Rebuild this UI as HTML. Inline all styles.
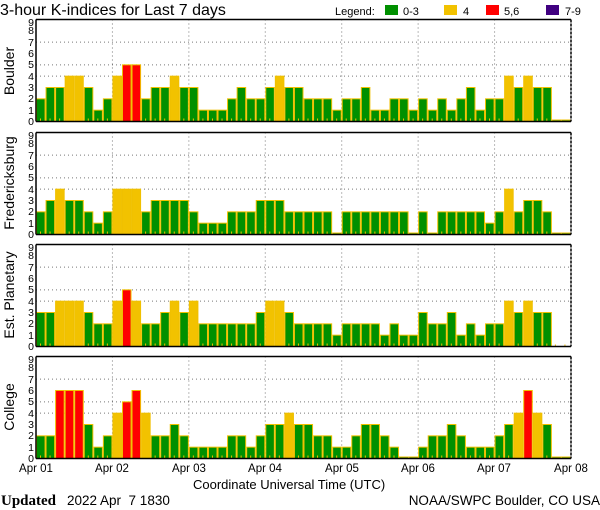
<!DOCTYPE html>
<html><head><meta charset="utf-8"><style>
html,body{margin:0;padding:0;background:#fff;}
svg{display:block;font-family:"Liberation Sans",sans-serif;}
</style></head><body>
<svg id="s" width="600" height="510" viewBox="0 0 600 510" xmlns="http://www.w3.org/2000/svg">
<rect width="600" height="510" fill="#fff"/>
<g id="plots"></g>
<text x="0" y="15" font-size="16" fill="#000">3-hour K-indices for Last 7 days</text>
<text x="335" y="15" font-size="11" fill="#000">Legend:</text>
<rect x="385" y="5" width="13" height="10" fill="#009000"/>
<text x="403" y="15" font-size="11">0-3</text>
<rect x="444" y="5" width="13" height="10" fill="#f2c200"/>
<text x="463" y="15" font-size="11">4</text>
<rect x="486" y="5" width="13" height="10" fill="#ff0000"/>
<text x="504" y="15" font-size="11">5,6</text>
<rect x="546" y="5" width="13" height="10" fill="#400080"/>
<text x="565" y="15" font-size="11">7-9</text>

<g font-size="14" text-anchor="middle">
<text transform="translate(14,71) rotate(-90)">Boulder</text>
<text transform="translate(14,183) rotate(-90)">Fredericksburg</text>
<text transform="translate(14,295) rotate(-90)">Est. Planetary</text>
<text transform="translate(14,407) rotate(-90)">College</text>
</g>

<g font-size="10.5" text-anchor="end">
<text x="34" y="125">0</text><text x="34" y="114">1</text><text x="34" y="102">2</text><text x="34" y="91">3</text><text x="34" y="80">4</text><text x="34" y="68">5</text><text x="34" y="57">6</text><text x="34" y="46">7</text><text x="34" y="34">8</text><text x="34" y="26">9</text>
<text x="34" y="238">0</text><text x="34" y="227">1</text><text x="34" y="215">2</text><text x="34" y="204">3</text><text x="34" y="193">4</text><text x="34" y="181">5</text><text x="34" y="170">6</text><text x="34" y="159">7</text><text x="34" y="147">8</text><text x="34" y="139">9</text>
<text x="34" y="350">0</text><text x="34" y="339">1</text><text x="34" y="327">2</text><text x="34" y="316">3</text><text x="34" y="305">4</text><text x="34" y="293">5</text><text x="34" y="282">6</text><text x="34" y="271">7</text><text x="34" y="259">8</text><text x="34" y="251">9</text>
<text x="34" y="462">0</text><text x="34" y="451">1</text><text x="34" y="439">2</text><text x="34" y="428">3</text><text x="34" y="417">4</text><text x="34" y="405">5</text><text x="34" y="394">6</text><text x="34" y="383">7</text><text x="34" y="371">8</text><text x="34" y="363">9</text>
</g>

<g font-size="11.5" text-anchor="middle">
<text x="36" y="472">Apr 01</text>
<text x="112" y="472">Apr 02</text>
<text x="189" y="472">Apr 03</text>
<text x="265" y="472">Apr 04</text>
<text x="342" y="472">Apr 05</text>
<text x="418" y="472">Apr 06</text>
<text x="494" y="472">Apr 07</text>
<text x="571" y="472">Apr 08</text>
</g>
<text x="193" y="489" font-size="13">Coordinate Universal Time (UTC)</text>
<text x="1" y="505" font-size="15" font-family="Liberation Serif, serif" font-weight="bold">Updated</text>
<text x="67" y="505" font-size="13.5">2022 Apr&#160;&#160;7 1830</text>
<text x="600" y="505" font-size="13.5" text-anchor="end">NOAA/SWPC Boulder, CO USA</text>
</svg>
<script>
(function(){
var NS="http://www.w3.org/2000/svg";
var g=document.getElementById("plots");
function el(n,a){var e=document.createElementNS(NS,n);for(var k in a)e.setAttribute(k,a[k]);g.appendChild(e);return e;}
var data=[
[2,3,3,4,4,3,1,2, 4,5,5,2,3,3,4,3, 3,1,1,1,2,3,2,2, 3,4,3,3,2,2,2,1, 2,2,3,1,1,2,2,1, 2,1,2,1,2,3,1,2, 2,4,3,4,3,3,0,0],
[2,3,4,3,3,2,1,2, 4,4,4,2,3,3,3,3, 2,1,1,1,2,2,2,3, 3,3,2,2,2,2,2,0, 2,2,2,2,2,2,2,0, 2,0,2,2,2,2,2,1, 2,4,2,3,3,2,0,0],
[3,3,4,4,4,3,2,2, 4,5,4,2,2,3,4,3, 4,2,2,2,2,2,2,3, 4,4,3,2,2,2,2,1, 2,2,2,2,1,2,1,1, 3,2,2,3,1,2,1,2, 2,4,3,4,3,3,-1,-1],
[2,2,6,6,6,3,1,2, 4,5,6,4,2,2,3,2, 1,1,1,1,2,2,1,2, 3,3,4,3,3,2,2,1, 1,2,3,3,2,1,0,0, 1,2,2,3,2,1,1,1, 2,3,4,6,4,3,0,0]
];
var tops=[19.5,132.5,244.5,356.5];
var L=36,W=535,H=102,u=H/9,bw=W/56;
for(var p=0;p<4;p++){
 var t=tops[p],b=t+H;
 [4,5,7].forEach(function(v){var y=b-v*u;el("line",{x1:L,x2:L+W,y1:y,y2:y,stroke:"#777","stroke-width":1,"stroke-dasharray":"1,3"});});
 for(var d=1;d<7;d++){var x=L+d*W/7;el("line",{x1:x,x2:x,y1:t,y2:b,stroke:"#777","stroke-width":1,"stroke-dasharray":"1,3"});}
 for(var i=0;i<56;i++){
  var v=data[p][i],x=L+i*bw;
  if(v<0){el("rect",{x:x+3,y:b-2,width:1,height:2,fill:"#f0c000"});continue;}
  var c=v<=3?"#009000":v==4?"#f2c200":v<=6?"#ff0000":"#400080";
  var h=v==0?1.5:v*u;
  el("rect",{x:x+0.5,y:b-h,width:bw-1,height:h,fill:c,stroke:"#f0c000","stroke-width":1});
  if(v>0&&v<=3)el("rect",{x:x+4,y:b-3,width:1,height:3,fill:"#f0c000"});
 }
 el("line",{x1:L,x2:L+W,y1:t,y2:t,stroke:"#000","stroke-width":1.5});
 el("line",{x1:L,x2:L+W,y1:b,y2:b,stroke:"#000","stroke-width":1.5});
 el("line",{x1:L,x2:L,y1:t,y2:b,stroke:"#000","stroke-width":1.5});
 el("line",{x1:L+W,x2:L+W,y1:t,y2:b,stroke:"#000","stroke-width":1.5,"stroke-dasharray":"3,1"});
}
})();
</script>
</body></html>
